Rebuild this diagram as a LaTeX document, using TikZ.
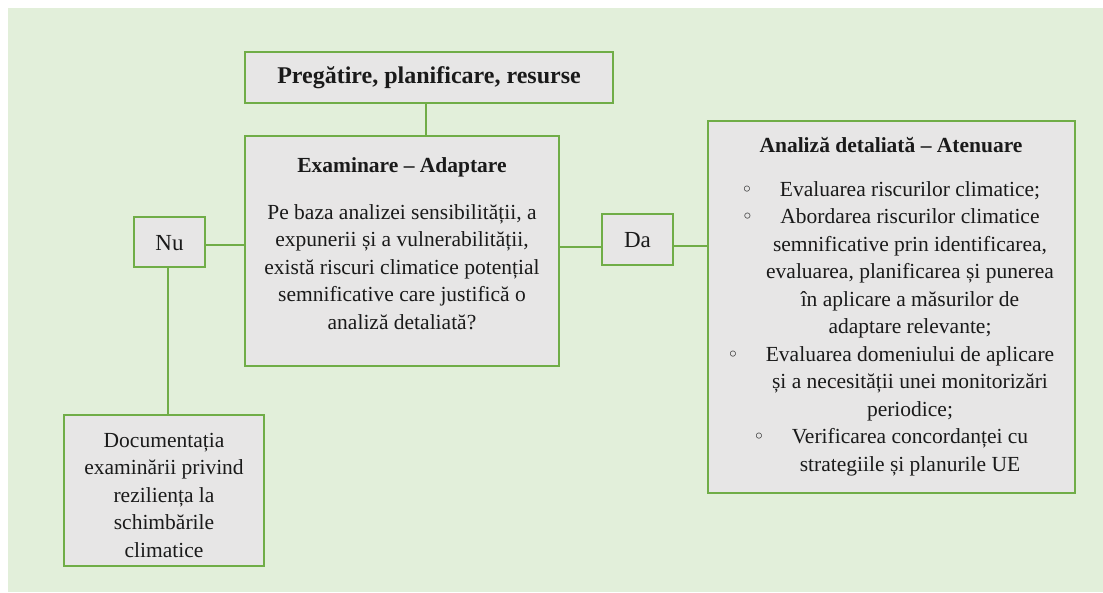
\documentclass[tikz,border=0pt]{standalone}
\usepackage{fontspec}
\setmainfont{Liberation Serif}
\newfontfamily\symfont{DejaVu Sans}
\definecolor{bggreen}{HTML}{E2EFDA}
\definecolor{boxgray}{HTML}{E7E6E6}
\definecolor{linegreen}{HTML}{70AD47}
\definecolor{textdark}{HTML}{1A1A1A}
\newcommand{\mybullet}{\llap{{\symfont\fontsize{20}{20}\selectfont ◦}\hspace{27pt}}}
\begin{document}
\begin{tikzpicture}[x=1pt,y=-1pt,
  box/.style={draw=linegreen, line width=2.5pt, fill=boxgray, inner sep=0pt, outer sep=0pt},
  conn/.style={draw=linegreen, line width=2pt},
  txt/.style={align=center, text=textdark, inner sep=0pt, font=\fontsize{21.5}{27.5}\selectfont}]
\useasboundingbox (0,0) rectangle (1103,592);
\fill[bggreen] (8,8) rectangle (1103,592);

% boxes
\node[box, minimum width=368pt, minimum height=51pt] (top) at (429,77.5) {};
\node[box, minimum width=314pt, minimum height=230pt] (exam) at (402,251) {};
\node[box, minimum width=71pt, minimum height=50pt] (nu) at (169.5,242) {};
\node[box, minimum width=71pt, minimum height=51pt] (da) at (637.5,239.5) {};
\node[box, minimum width=367pt, minimum height=372pt] (right) at (891.5,307) {};
\node[box, minimum width=200pt, minimum height=151pt] (doc) at (164,490.5) {};

% connectors
\draw[conn] ([xshift=-3pt]top.south) -- ([xshift=-3pt]top.south |- exam.north);
\draw[conn] ([yshift=-3pt]nu.east) -- ([yshift=-3pt]nu.east -| exam.west);
\draw[conn] ([yshift=-7pt]da.west) -- ([yshift=-7pt]da.west -| exam.east);
\draw[conn] ([yshift=-6.5pt]da.east) -- ([yshift=-6.5pt]da.east -| right.west);
\draw[conn] ([xshift=-1.5pt]nu.south) -- ([xshift=-1.5pt]nu.south |- doc.north);

% texts
\node[txt, font=\bfseries\fontsize{24}{28}\selectfont] (toptxt) at (429,78) {Pregătire, planificare, resurse};
\node[txt] (examtxt) at (402,243.5) {\textbf{Examinare – Adaptare}\\[19.5pt]
Pe baza analizei sensibilității, a\\
expunerii și a vulnerabilității,\\
există riscuri climatice potențial\\
semnificative care justifică o\\
analiză detaliată?};
\node[txt, font=\fontsize{23}{27}\selectfont] (nutxt) at (169.5,243) {Nu};
\node[txt, font=\fontsize{23}{27}\selectfont] (datxt) at (637.5,240) {Da};
\node[txt, font=\bfseries\fontsize{21.5}{27.5}\selectfont] (righttitle) at (891,145) {Analiză detaliată – Atenuare};
\node[txt] (rightbody) at (910,328.5) {\mybullet Evaluarea riscurilor climatice;\\
\mybullet Abordarea riscurilor climatice\\
semnificative prin identificarea,\\
evaluarea, planificarea și punerea\\
în aplicare a măsurilor de\\
adaptare relevante;\\
\mybullet Evaluarea domeniului de aplicare\\
și a necesității unei monitorizări\\
periodice;\\
\mybullet Verificarea concordanței cu\\
strategiile și planurile UE};
\node[txt] (doctxt) at (164,495) {Documentația\\
examinării privind\\
reziliența la\\
schimbările\\
climatice};
\end{tikzpicture}
\end{document}
